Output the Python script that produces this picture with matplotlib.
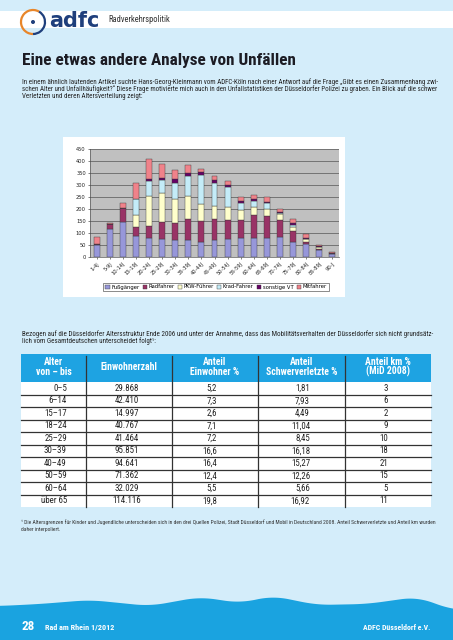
import matplotlib
matplotlib.use("Agg")
import matplotlib.pyplot as plt
import numpy as np
from matplotlib import font_manager
from matplotlib.font_manager import FontProperties
from matplotlib.patches import Rectangle, Polygon, Arc, Circle

# ---------------- data ----------------
age_labels = ['1-4J', '5-9J', '10-14J', '15-19J', '20-24J', '25-29J', '30-34J',
              '35-39J', '40-44J', '45-49J', '50-54J', '55-59J', '60-64J', '65-69J',
              '70-74J', '75-79J', '80-84J', '85-89J', '90-J']
fussgaenger = [48, 115, 147, 87, 81, 75, 70, 70, 64, 70, 75, 81, 78, 81, 84, 61, 53, 28, 14]
radfahrer   = [7, 22, 56, 39, 48, 72, 70, 89, 84, 89, 79, 73, 98, 89, 70, 48, 8, 7, 2]
pkw_fuehrer = [0, 0, 0, 50, 127, 118, 100, 95, 73, 55, 56, 42, 34, 28, 25, 14, 12, 6, 0]
krad_fahrer = [0, 0, 0, 64, 61, 56, 70, 84, 120, 96, 83, 30, 25, 28, 5, 11, 2, 1, 0]
sonstige_vt = [1, 1, 1, 1, 7, 10, 15, 12, 12, 9, 6, 6, 5, 3, 3, 6, 6, 3, 1]
mitfahrer   = [28, 5, 21, 66, 84, 57, 38, 33, 14, 19, 17, 17, 20, 23, 11, 19, 14, 7, 2]
series_names = ['Fußgänger', 'Radfahrer', 'PKW-Führer', 'Krad-Fahrer', 'sonstige VT', 'Mitfahrer']
series_colors = ['#9797da', '#993366', '#ffffcc', '#c4ecf8', '#660066', '#f0828a']
y_ticks = [0, 50, 100, 150, 200, 250, 300, 350, 400, 450]

table_header = ['Alter\nvon – bis', 'Einwohnerzahl', 'Anteil\nEinwohner %',
                'Anteil\nSchwerverletzte %', 'Anteil km %\n(MiD 2008)']
table_age = ['0–5', '6–14', '15–17', '18–24', '25–29', '30–39', '40–49', '50–59', '60–64', 'über 65']
table_einwohner = ['29.868', '42.410', '14.997', '40.767', '41.464', '95.851', '94.641',
                   '71.362', '32.029', '114.116']
table_anteil_einw = ['5,2', '7,3', '2,6', '7,1', '7,2', '16,6', '16,4', '12,4', '5,5', '19,8']
table_anteil_schwer = ['1,81', '7,93', '4,49', '11,04', '8,45', '16,18', '15,27', '12,26', '5,66', '16,92']
table_anteil_km = ['3', '6', '2', '9', '10', '18', '21', '15', '5', '11']

# ---------------- fonts ----------------
def _wnum(w):
    if isinstance(w, (int, float)):
        return int(w)
    return {'normal': 400, 'regular': 400, 'book': 400, 'bold': 700, 'medium': 500,
            'semibold': 600, 'demibold': 600, 'light': 300}.get(str(w).lower(), 400)

PREF = ['Roboto Condensed', 'PT Sans Narrow', 'Fira Sans Condensed', 'Barlow Semi Condensed',
        'Asap Condensed', 'Archivo Narrow', 'Liberation Sans Narrow', 'Roboto', 'DejaVu Sans']
TTF = [f for f in font_manager.fontManager.ttflist if f.style == 'normal']

def pick(weight):
    for p in PREF:
        c = [f for f in TTF if f.name == p]
        if c:
            c.sort(key=lambda f: abs(_wnum(f.weight) - weight))
            return FontProperties(fname=c[0].fname)
    return FontProperties(family='DejaVu Sans', weight='bold' if weight >= 600 else 'normal')

FP_REG = pick(400)
FP_BOLD = pick(700)

W, H = 453, 640
fig = plt.figure(figsize=(W / 100, H / 100), dpi=100)
fig.patch.set_facecolor('#d4edfa')
page = fig.add_axes([0, 0, 1, 1])
page.set_xlim(0, W)
page.set_ylim(H, 0)
page.axis('off')
page.set_zorder(0)
renderer = fig.canvas.get_renderer()

def fp(bold=False, size=8):
    p = (FP_BOLD if bold else FP_REG).copy()
    p.set_size(size)
    return p

def txt(x, y, s, size, bold=False, **kw):
    return page.text(x, y, s, fontproperties=fp(bold, size), **kw)

def fit_size(s, width, bold=False, size0=10):
    t = page.text(0, 0, s, fontproperties=fp(bold, size0))
    bb = t.get_window_extent(renderer)
    t.remove()
    return size0 * width / bb.width

def fit_text(x, y, s, width, bold=False, **kw):
    return txt(x, y, s, fit_size(s, width, bold), bold, **kw)

# ---------------- header band ----------------
page.add_patch(Rectangle((0, 11), W, 17, facecolor='white', edgecolor='none'))
page.add_patch(Arc((33, 22), 24, 24, theta1=90, theta2=300, color='#e8862a', lw=1.6))
page.add_patch(Arc((33, 22), 24, 24, theta1=-60, theta2=90, color='#1f3f7c', lw=1.6))
page.add_patch(Circle((33, 22), 1.3, color='#1f3f7c'))
page.text(49, 21, 'adfc', fontsize=15, family='DejaVu Sans', fontweight='bold',
          color='#1f3f7c', va='center')
fit_text(108, 19, 'Radverkehrspolitik', 62, color='#333333', va='center')

# ---------------- title + intro ----------------
fit_text(22, 60, 'Eine etwas andere Analyse von Unfällen', 272, bold=True,
         color='#1c1c24', va='center')
intro = ['In einem ähnlich lautenden Artikel suchte Hans-Georg-Kleinmann vom ADFC-Köln nach einer Antwort auf die Frage „Gibt es einen Zusammenhang zwi-',
         'schen Alter und Unfallhäufigkeit?“ Diese Frage motivierte mich auch in den Unfallstatistiken der Düsseldorfer Polizei zu graben. Ein Blick auf die schwer',
         'Verletzten und deren Altersverteilung zeigt:']
fs_body = fit_size(intro[0], 408)
txt(22, 82, intro[0], fs_body, color='#222222', va='center')
fit_text(22, 89, intro[1], 408, color='#222222', va='center')
txt(22, 96.5, intro[2], fs_body, color='#222222', va='center')

# ---------------- chart ----------------
page.add_patch(Rectangle((63, 137), 282, 160, facecolor='white', edgecolor='none'))
ax = fig.add_axes([90 / W, 1 - 257 / H, 249 / W, 108 / H])
ax.set_zorder(2)
ax.set_facecolor('#c0c0c0')
x = np.arange(len(age_labels))
bottom = np.zeros(len(age_labels))
handles = []
for name, vals, col in zip(series_names,
                           [fussgaenger, radfahrer, pkw_fuehrer, krad_fahrer, sonstige_vt, mitfahrer],
                           series_colors):
    b = ax.bar(x, vals, 0.45, bottom=bottom, color=col, edgecolor='#3a3a3a',
               linewidth=0.3, label=name, zorder=3)
    handles.append(b)
    bottom += np.array(vals)
ax.set_xlim(-0.5, len(age_labels) - 0.5)
ax.set_ylim(0, 450)
ax.set_yticks(y_ticks)
ax.set_yticklabels([str(v) for v in y_ticks], fontsize=3.7)
ax.set_xticks(x)
ax.set_xticklabels(age_labels, fontsize=3.7, rotation=45, ha='right', rotation_mode='anchor')
ax.grid(axis='y', color='#555555', linewidth=0.5, zorder=1)
ax.tick_params(axis='both', length=1.5, width=0.4, pad=1.5, colors='#222222')
for s in ['top', 'right']:
    ax.spines[s].set_visible(False)
for s in ['left', 'bottom']:
    ax.spines[s].set_linewidth(0.5)
    ax.spines[s].set_color('#555555')
leg = fig.legend(handles=handles, loc='center', ncol=6,
                 bbox_to_anchor=(216 / W, 1 - 287 / H), fontsize=3.8, frameon=True,
                 fancybox=False, edgecolor='#333333', handlelength=0.8, handleheight=0.8,
                 handletextpad=0.3, columnspacing=0.6, borderpad=0.35)
leg.get_frame().set_linewidth(0.5)

# ---------------- paragraph 2 ----------------
para2 = ['Bezogen auf die Düsseldorfer Altersstruktur Ende 2006 und unter der Annahme, dass das Mobilitätsverhalten der Düsseldorfer sich nicht grundsätz-',
         'lich vom Gesamtdeutschen unterscheidet folgt¹:']
fit_text(22, 334.5, para2[0], 408, color='#222222', va='center')
txt(22, 341.5, para2[1], fs_body, color='#222222', va='center')

# ---------------- table ----------------
col_edges = [21, 86, 172, 258, 345, 431]
top_h, bot_h = 354, 382
n_rows = len(table_age)
row_h = (507 - bot_h) / n_rows
page.add_patch(Rectangle((col_edges[0], top_h), col_edges[-1] - col_edges[0], bot_h - top_h,
                         facecolor='#1ea3e2', edgecolor='none'))
page.add_patch(Rectangle((col_edges[0], bot_h), col_edges[-1] - col_edges[0], n_rows * row_h,
                         facecolor='white', edgecolor='none'))
fs_head = fit_size('Schwerverletzte %', 72, bold=True)
for i, htxt in enumerate(table_header):
    cx = (col_edges[i] + col_edges[i + 1]) / 2
    txt(cx, 367, htxt, fs_head, bold=True, color='white',
        ha='center', va='center', linespacing=0.9)
for r in range(1, n_rows):
    yy = bot_h + r * row_h
    page.plot([col_edges[0], col_edges[-1]], [yy, yy], color='#333333', lw=0.9)
for c in col_edges[1:-1]:
    page.plot([c, c], [top_h + 2, bot_h + n_rows * row_h], color='#333333', lw=0.9)
columns = [table_age, table_einwohner, table_anteil_einw, table_anteil_schwer, table_anteil_km]
col_x = [67, 127, 217, 310, 388]
col_ha = ['right', 'center', 'right', 'right', 'right']
fs_cell = fit_size('29.868', 24)
for ci, col in enumerate(columns):
    for r, val in enumerate(col):
        yy = bot_h + (r + 0.5) * row_h
        txt(col_x[ci], yy, val, fs_cell, color='#222222', ha=col_ha[ci], va='center')

# ---------------- footnote ----------------
foot = ['¹ Die Altersgrenzen für Kinder und Jugendliche unterscheiden sich in den drei Quellen Polizei, Stadt Düsseldorf und Mobil in Deutschland 2008. Anteil Schwerverletzte und Anteil km wurden',
        'daher interpoliert.']
fs_foot = fit_size(foot[0], 410)
txt(21, 522, foot[0], fs_foot, color='#333333', va='center')
txt(21, 529, foot[1], fs_foot, color='#333333', va='center')

# ---------------- footer wave ----------------
wx = np.array([0, 40, 90, 150, 200, 240, 273, 317, 367, 417, 453])
wy = np.array([606, 604, 600, 606, 597, 603, 596, 605, 604, 597, 610])
xs = np.linspace(0, W, 300)
ys = np.interp(xs, wx, wy)
ys = np.convolve(np.pad(ys, 10, mode='edge'), np.ones(21) / 21, mode='valid')
poly = np.vstack([np.column_stack([xs, ys]), [[W, H], [0, H]]])
page.add_patch(Polygon(poly, closed=True, facecolor='#1aa3e0', edgecolor='none'))
txt(22, 627, '28', 9.5, bold=True, color='white', va='center')
fit_text(45, 627, 'Rad am Rhein 1/2012', 70, bold=True, color='white', va='center')
fit_text(363, 627, 'ADFC Düsseldorf e.V.', 67, bold=True, color='white', va='center')

fig.savefig('out.png', dpi=100, facecolor=fig.get_facecolor())
